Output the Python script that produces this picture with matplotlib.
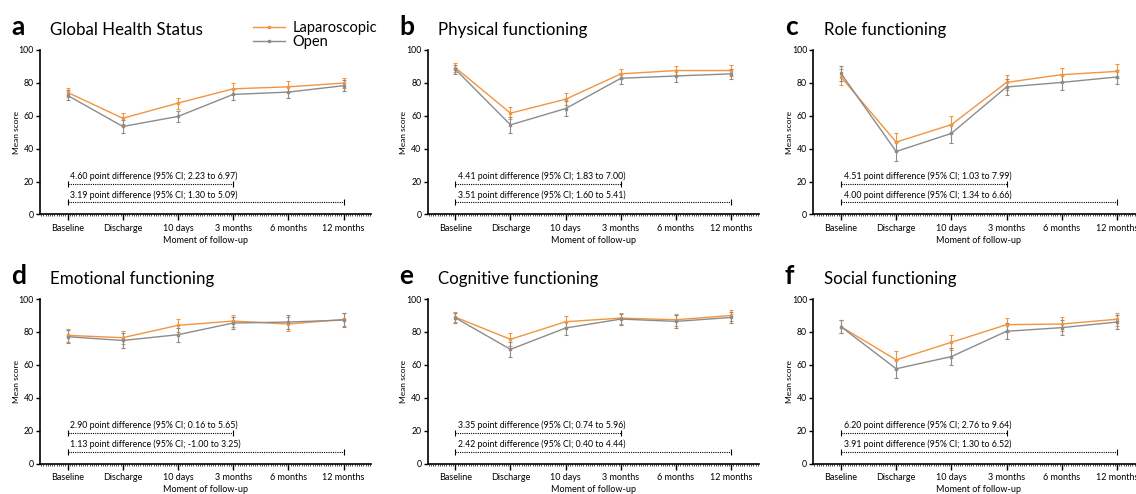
import matplotlib.pyplot as plt
import numpy as np
from matplotlib.ticker import MultipleLocator
from matplotlib.lines import Line2D

# Fuente parecida a la del articulo
plt.rcParams['font.family'] = ['Lato', 'DejaVu Sans']

# Momentos de seguimiento (eje x)
momentos = ['Baseline', 'Discharge', '10 days', '3 months', '6 months', '12 months']

# Titulos y letras de cada panel
titulos = ['Global Health Status', 'Physical functioning', 'Role functioning',
           'Emotional functioning', 'Cognitive functioning', 'Social functioning']
letras = ['a', 'b', 'c', 'd', 'e', 'f']

# Medias (laparoscopica / abierta)
lap_a = [74.2, 58.5, 67.7, 76.4, 77.6, 79.9]
open_a = [72.4, 53.5, 59.6, 73.0, 74.4, 78.3]
lap_b = [89.3, 61.6, 70.1, 85.5, 87.5, 87.5]
open_b = [88.3, 54.5, 64.4, 82.8, 84.2, 85.5]
lap_c = [83.6, 44.0, 54.6, 80.3, 85.0, 87.0]
open_c = [85.8, 38.3, 49.3, 77.5, 80.3, 83.6]
lap_d = [77.9, 76.5, 84.0, 86.6, 84.8, 87.6]
open_d = [77.1, 74.8, 78.3, 85.4, 86.0, 87.2]
lap_e = [89.0, 75.5, 86.2, 88.4, 87.4, 90.0]
open_e = [88.6, 69.4, 82.4, 87.8, 86.4, 88.8]
lap_f = [83.2, 63.0, 73.7, 84.4, 84.8, 87.7]
open_f = [83.2, 57.6, 65.0, 80.4, 82.6, 86.0]

# Semi-amplitud de las barras de error
err_lap_a = [2.5, 3.3, 3.3, 3.3, 3.3, 3.3]
err_open_a = [3.0, 3.8, 3.5, 3.3, 3.5, 3.2]
err_lap_b = [2.5, 3.8, 3.7, 3.2, 3.0, 3.2]
err_open_b = [2.8, 4.7, 4.7, 3.5, 3.4, 3.2]
err_lap_c = [4.8, 5.7, 5.3, 4.8, 4.3, 4.2]
err_open_c = [4.5, 5.5, 5.7, 4.8, 4.5, 4.5]
err_lap_d = [3.8, 4.0, 4.0, 3.8, 4.0, 4.0]
err_open_d = [3.8, 4.3, 4.3, 3.8, 4.0, 4.0]
err_lap_e = [3.0, 3.8, 3.4, 3.3, 3.6, 3.5]
err_open_e = [3.2, 4.7, 4.0, 3.3, 3.8, 3.6]
err_lap_f = [4.0, 5.3, 4.5, 4.3, 4.3, 4.0]
err_open_f = [4.0, 5.5, 5.2, 4.8, 4.5, 4.0]

# Textos de las diferencias (hasta 3 meses / hasta 12 meses)
dif_3m = ['4.60 point difference (95% CI; 2.23 to 6.97)',
          '4.41 point difference (95% CI; 1.83 to 7.00)',
          '4.51 point difference (95% CI; 1.03 to 7.99)',
          '2.90 point difference (95% CI; 0.16 to 5.65)',
          '3.35 point difference (95% CI; 0.74 to 5.96)',
          '6.20 point difference (95% CI; 2.76 to 9.64)']
dif_12m = ['3.19 point difference (95% CI; 1.30 to 5.09)',
           '3.51 point difference (95% CI; 1.60 to 5.41)',
           '4.00 point difference (95% CI; 1.34 to 6.66)',
           '1.13 point difference (95% CI; -1.00 to 3.25)',
           '2.42 point difference (95% CI; 0.40 to 4.44)',
           '3.91 point difference (95% CI; 1.30 to 6.52)']

lap = [lap_a, lap_b, lap_c, lap_d, lap_e, lap_f]
abierta = [open_a, open_b, open_c, open_d, open_e, open_f]
err_lap = [err_lap_a, err_lap_b, err_lap_c, err_lap_d, err_lap_e, err_lap_f]
err_open = [err_open_a, err_open_b, err_open_c, err_open_d, err_open_e, err_open_f]

naranja = '#F39440'
gris = '#8C8C8C'

fig = plt.figure(figsize=(11.36, 4.94), dpi=100)

# Posiciones de los paneles (fraccion de la figura)
izquierdas = [0.0352, 0.3765, 0.716]
abajos = [0.5658, 0.0617]
ancho = 0.2915
alto = 0.333

x = np.arange(len(momentos))

for i in range(6):
    fila = i // 3
    col = i % 3
    ax = fig.add_axes([izquierdas[col], abajos[fila], ancho, alto])

    # Lineas con barras de error
    ax.errorbar(x, lap[i], yerr=err_lap[i], color=naranja, lw=1, marker='s', ms=2,
                capsize=1.2, elinewidth=0.8, capthick=0.8, zorder=3)
    ax.errorbar(x, abierta[i], yerr=err_open[i], color=gris, lw=1, marker='s', ms=2,
                capsize=1.2, elinewidth=0.8, capthick=0.8, zorder=3)

    # Corchetes de la diferencia
    ax.plot([0, 3], [18.7, 18.7], color='k', lw=0.8, ls=(0, (1, 1)))
    ax.plot([0, 3], [18.7, 18.7], color='k', lw=0, marker='|', ms=5, mew=0.8)
    ax.plot([0, 5], [7.3, 7.3], color='k', lw=0.8, ls=(0, (1, 1)))
    ax.plot([0, 5], [7.3, 7.3], color='k', lw=0, marker='|', ms=5, mew=0.8)
    ax.text(0.05, 20.2, dif_3m[i], fontsize=6.3, va='bottom', ha='left')
    ax.text(0.05, 8.8, dif_12m[i], fontsize=6.3, va='bottom', ha='left')

    # Ejes
    ax.set_xlim(-0.5, 5.5)
    ax.set_ylim(0, 100)
    ax.set_xticks(x)
    ax.set_xticklabels(momentos, fontsize=6.5)
    ax.set_yticks([0, 20, 40, 60, 80, 100])
    ax.tick_params(axis='y', labelsize=6.3, length=3, width=1, pad=1.5)
    ax.tick_params(axis='x', which='major', length=4, width=1, pad=3)
    ax.xaxis.set_minor_locator(MultipleLocator(0.04))
    ax.tick_params(axis='x', which='minor', length=1.5, width=0.5)
    ax.spines['top'].set_visible(False)
    ax.spines['right'].set_visible(False)
    ax.spines['left'].set_linewidth(1.2)
    ax.spines['bottom'].set_linewidth(1.2)
    ax.set_ylabel('Mean score', fontsize=6, labelpad=-1)
    ax.set_xlabel('Moment of follow-up', fontsize=6.5, labelpad=2)

    # Letra y titulo del panel
    y_tit = abajos[fila] + alto + 0.031
    fig.text(izquierdas[col] - 0.025, y_tit, letras[i], fontsize=19, fontweight='bold',
             ha='left', va='baseline')
    fig.text(izquierdas[col] + 0.009, y_tit, titulos[i], fontsize=12.2,
             ha='left', va='baseline')

# Leyenda arriba a la derecha del primer panel
manejadores = [Line2D([], [], color=naranja, lw=1, marker='s', ms=1.5),
               Line2D([], [], color=gris, lw=1, marker='s', ms=1.5)]
fig.legend(manejadores, ['Laparoscopic', 'Open'], loc='upper left',
           bbox_to_anchor=(253 / 1136, 1 - 21 / 494), frameon=False,
           fontsize=10.5, handlelength=2.2, handletextpad=0.5,
           labelspacing=0.0, borderpad=0, borderaxespad=0)

fig.savefig('out.png', dpi=100)
